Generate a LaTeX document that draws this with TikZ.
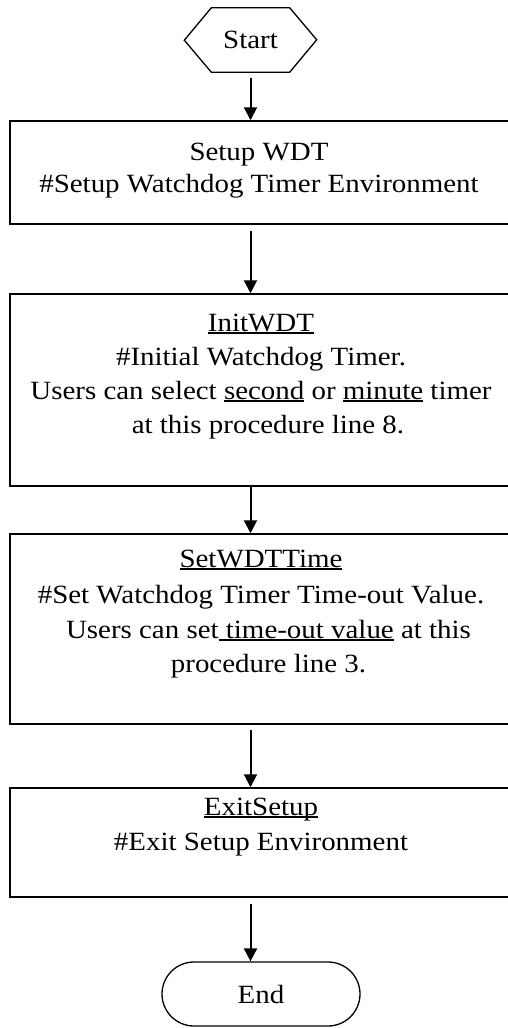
\documentclass[tikz,border=0pt]{standalone}
\usepackage{fontspec}
\setmainfont{Liberation Serif}[FakeStretch=1.1]
\usetikzlibrary{arrows.meta}
\newcommand{\myul}[1]{\setbox0\hbox{#1}\rlap{\rule[-2.6pt]{\wd0}{1.3pt}}\box0\relax}
\begin{document}
\begin{tikzpicture}[x=1pt,y=-1pt,
  txt/.style={anchor=base, inner sep=0pt, font=\fontsize{26.3}{30}\selectfont},
  procbox/.style={draw, line width=1.5pt, minimum width=500pt, inner sep=0pt},
  flow/.style={line width=2pt, -{Triangle[width=13pt,length=13pt]}},
  outline/.style={draw, line width=1.3pt}
]
\useasboundingbox (0,0) rectangle (507,1028);

% start hexagon
\node[minimum width=78pt, minimum height=64pt, inner sep=0pt,
      font=\fontsize{26.3}{30}\selectfont] (hexc) at (250.5,40) {Start};
\draw[outline] (hexc.north west) -- (hexc.north east) -- ++(27,32)
   -- (hexc.south east) -- (hexc.south west) -- ++(-27,-32) -- cycle;

% boxes
\node[procbox, minimum height=103pt] (box1) at (260,172.5) {};
\node[procbox, minimum height=192pt] (box2) at (260,390) {};
\node[procbox, minimum height=190pt] (box3) at (260,629) {};
\node[procbox, minimum height=109pt] (box4) at (260,842.5) {};

% end terminal
\node[outline, rounded corners=32pt, minimum width=198pt, minimum height=64pt,
      inner sep=0pt, font=\fontsize{26.3}{30}\selectfont] (endn) at (261,994) {End};

% texts
\node[txt] (t11) at (259,160) {Setup WDT};
\node[txt] (t12) at (259,192) {\#Setup Watchdog Timer Environment};

\node[txt] (t21) at (261,331) {\myul{InitWDT}};
\node[txt] (t22) at (261,365) {\#Initial Watchdog Timer.};
\node[txt] (t23) at (261,399) {Users can select \myul{second} or \myul{minute} timer};
\node[txt] (t24) at (268,433) {at this procedure line 8.};

\node[txt] (t31) at (261,567) {\myul{SetWDTTime}};
\node[txt] (t32) at (261,603) {\#Set Watchdog Timer Time-out Value.};
\node[txt] (t33) at (268.5,638) {Users can set\myul{ time-out value} at this};
\node[txt] (t34) at (268.5,672) {procedure line 3.};

\node[txt] (t41) at (261,815) {\myul{ExitSetup}};
\node[txt] (t42) at (261,850) {\#Exit Setup Environment};

% connectors
\draw[flow, shorten <=6pt] (hexc.south) -- (box1.north -| hexc.south);
\draw[flow, shorten <=6pt] (box1.south -| hexc.south) -- (box2.north -| hexc.south);
\draw[flow] (box2.south -| hexc.south) -- (box3.north -| hexc.south);
\draw[flow, shorten <=5pt] (box3.south -| hexc.south) -- (box4.north -| hexc.south);
\draw[flow, shorten <=6pt] (box4.south -| hexc.south) -- (endn.north -| hexc.south);
\end{tikzpicture}
\end{document}
